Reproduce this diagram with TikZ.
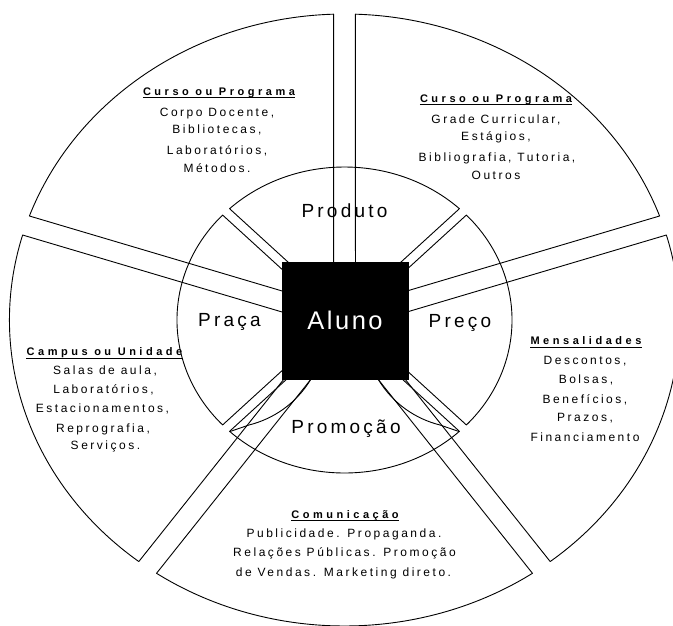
\documentclass[tikz,border=0pt]{standalone}
\usepackage{fontspec}
\setmainfont{Liberation Sans}
\newfontfamily\bodyfont[LetterSpace=21]{Liberation Sans}
\newfontfamily\titlefont[LetterSpace=32]{Liberation Sans}
\newfontfamily\ringfont[LetterSpace=17]{Liberation Sans}
\newfontfamily\alunofont[LetterSpace=10]{Liberation Sans}
\tikzset{
  sector/.style={draw=black, line width=0.9pt, line join=round},
  uline/.style={draw=black, line width=0.8pt},
  body/.style={font=\bodyfont\fontsize{12}{14}\selectfont, inner sep=0pt, anchor=base},
  ttl/.style={font=\titlefont\bfseries\fontsize{11}{13}\selectfont, inner sep=0pt, anchor=base},
  ring/.style={font=\ringfont\fontsize{19}{22}\selectfont, inner sep=0pt, anchor=base},
}
\begin{document}
\begin{tikzpicture}[x=1pt,y=1pt]
\useasboundingbox (0,0) rectangle (673,-625);
\clip (0,0) rectangle (673,-625);
% sectors
\begin{scope}[shift={(344.5,-320)}, xscale=1.095]
  \foreach \a in {18,90,162,234,306} {
    \pgfmathsetmacro\sa{\a+1.873}
    \pgfmathsetmacro\ea{\a+72-1.873}
    \pgfmathsetmacro\ma{\a+36}
    \draw[sector] (\ma:17.01) -- (\sa:306) arc[start angle=\sa, end angle=\ea, radius=306] -- cycle;
  }
  \foreach \a in {45,135,225,315} {
    \pgfmathsetmacro\sa{\a+1.686}
    \pgfmathsetmacro\ea{\a+90-1.686}
    \pgfmathsetmacro\ma{\a+45}
    \draw[sector] (\ma:6.364) -- (\sa:153) arc[start angle=\sa, end angle=\ea, radius=153] -- cycle;
  }
\end{scope}
% extra curved outline of Promocao
\draw[sector] (378,-379) .. controls (393,-404) and (416,-419) .. (440,-425) -- (459,-431.5);
\draw[sector] (311,-379) .. controls (296,-404) and (273,-419) .. (249,-425) -- (230,-431.5);
% centre
\node[fill=black, draw=black, minimum width=126pt, minimum height=117pt, inner sep=0pt,
      text=white, font=\alunofont\fontsize{25.5}{30}\selectfont] (aluno) at (345,-320.5) {Aluno};
% ring labels
\node[ring] (produto) at (344.5,-217.7) {Produto};
\node[ring] (praca) at (229.5,-326.7) {Praça};
\node[ring] (preco) at (460,-327) {Preço};
\node[ring] (promocao) at (346,-433.3) {Promoção};
% top-left block
\node[ttl] (t1) at (219,-95.6) {Curso ou Programa};
\draw[uline] ([yshift=-2pt]t1.base west) -- ([yshift=-2pt]t1.base east);
\node[body] (t1a) at (217,-116.7) {Corpo Docente,};
\node[body] (t1b) at (217,-133.9) {Bibliotecas,};
\node[body] (t1c) at (217,-154.3) {Laboratórios,};
\node[body] (t1d) at (217,-172.3) {Métodos.};
% top-right block
\node[ttl] (t2) at (496,-102.4) {Curso ou Programa};
\draw[uline] ([yshift=-2pt]t2.base west) -- ([yshift=-2pt]t2.base east);
\node[body] (t2a) at (496,-123.3) {Grade Curricular,};
\node[body] (t2b) at (496,-140.3) {Estágios,};
\node[body] (t2c) at (497,-161.3) {Bibliografia, Tutoria,};
\node[body] (t2d) at (496,-179.3) {Outros};
% right block
\node[ttl] (t3) at (586,-344.9) {Mensalidades};
\draw[uline] ([yshift=-2pt]t3.base west) -- ([yshift=-2pt]t3.base east);
\node[body] (t3a) at (585,-364.3) {Descontos,};
\node[body] (t3b) at (586,-383) {Bolsas,};
\node[body] (t3c) at (585,-403.3) {Benefícios,};
\node[body] (t3d) at (585,-421.3) {Prazos,};
\node[body] (t3e) at (585,-441.9) {Financiamento};
% left block
\node[ttl] (t4) at (104.5,-355.9) {Campus ou Unidade};
\draw[uline] ([yshift=-2pt]t4.base west) -- ([yshift=-2pt]t4.base east);
\node[body] (t4a) at (105,-374.8) {Salas de aula,};
\node[body] (t4b) at (103.5,-393.3) {Laboratórios,};
\node[body] (t4c) at (102.5,-412.3) {Estacionamentos,};
\node[body] (t4d) at (103,-432.3) {Reprografia,};
\node[body] (t4e) at (105.5,-449.9) {Serviços.};
% bottom block
\node[ttl] (t5) at (345,-518.3) {Comunicação};
\draw[uline] ([yshift=-2pt]t5.base west) -- ([yshift=-2pt]t5.base east);
\node[body] (t5a) at (344,-537.3) {Publicidade. Propaganda.};
\node[body] (t5b) at (344.5,-556.3) {Relações Públicas. Promoção};
\node[body] (t5c) at (343.5,-576.3) {de Vendas. Marketing direto.};
\end{tikzpicture}
\end{document}
